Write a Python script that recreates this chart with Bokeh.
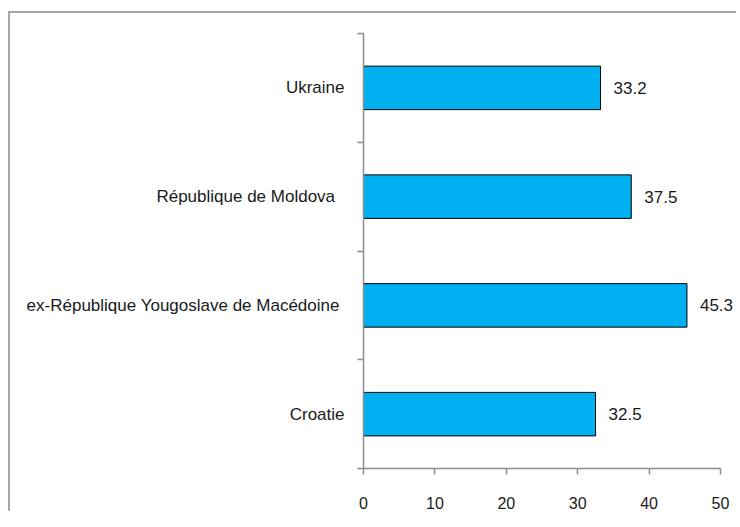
from bokeh.plotting import figure
from bokeh.models import FixedTicker, ColumnDataSource, Range1d, LabelSet
from bokeh.core.properties import value
from bokeh.embed import file_html
from bokeh.resources import INLINE

categories = ["Croatie", "ex-République Yougoslave  de Macédoine", "République  de Moldova ", "Ukraine"]
values = [32.5, 45.3, 37.5, 33.2]
x_ticks = [0, 10, 20, 30, 40, 50]
x_max = 50

FONT = "Liberation Sans"
AXIS_COLOR = "#8c8c8c"

n = len(categories)
centers = [i + 0.5 for i in range(n)]
bounds = [i for i in range(n + 1)]

src = ColumnDataSource(dict(
    y=centers,
    v=values,
    lab=[f"{v:.1f}" for v in values],
))

# frame spans 375 px; the axis (0..50) occupies the first 357 px of it
p = figure(width=728, height=500, output_backend="svg", toolbar_location=None,
           x_range=Range1d(0, x_max * 375 / 357), y_range=Range1d(0, n),
           min_border_left=353, min_border_right=0, min_border_top=20, min_border_bottom=45)
p.styles = {"border-left": "2px solid #a6a6a6", "border-top": "2px solid #a6a6a6",
            "margin-top": "11px", "margin-left": "8px"}

p.hbar(y="y", right="v", left=0, height=0.4, source=src,
       fill_color="#00B0F0", line_color="black", line_width=1)
labels = LabelSet(x="v", y="y", text="lab", source=src, x_offset=13,
                  text_baseline="middle", text_align="left",
                  text_font=value(FONT), text_font_size=value("17px"), text_color="#1a1a1a")
p.add_layout(labels)

p.grid.visible = False
p.outline_line_color = None

xa = p.xaxis[0]
xa.ticker = FixedTicker(ticks=x_ticks)
xa.bounds = (0, x_max)
xa.axis_line_color = AXIS_COLOR
xa.axis_line_width = 1.5
xa.major_tick_line_color = AXIS_COLOR
xa.major_tick_line_width = 1.5
xa.major_tick_in = 0
xa.major_tick_out = 6
xa.minor_tick_line_color = None
xa.major_label_standoff = 22
xa.major_label_text_font = FONT
xa.major_label_text_font_size = "16px"
xa.major_label_text_color = "#1a1a1a"

ya = p.yaxis[0]
ya.ticker = FixedTicker(ticks=centers, minor_ticks=bounds)
ya.major_label_overrides = {c: name for c, name in zip(centers, categories)}
ya.axis_line_color = AXIS_COLOR
ya.axis_line_width = 1.5
ya.major_tick_line_color = None
ya.major_tick_in = 0
ya.major_tick_out = 0
ya.minor_tick_line_color = AXIS_COLOR
ya.minor_tick_line_width = 1.5
ya.minor_tick_in = 0
ya.minor_tick_out = 6
ya.major_label_standoff = 13
ya.major_label_text_font = FONT
ya.major_label_text_font_size = "17px"
ya.major_label_text_color = "#1a1a1a"

open("out.html", "w").write(file_html(p, INLINE))
